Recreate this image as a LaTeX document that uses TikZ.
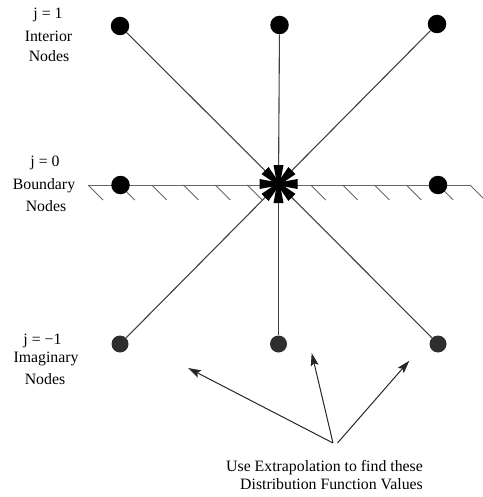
\documentclass[tikz,border=0pt]{standalone}
\usepackage{fontspec}
\setmainfont{Liberation Serif}
\usetikzlibrary{arrows.meta,calc}
\tikzset{
  dot/.style={circle,fill=black,inner sep=0pt,minimum size=18.5pt},
  imgdot/.style={circle,fill=black!82,inner sep=0pt,minimum size=17pt},
  spoke/.style={draw=black!75,line width=1.1pt},
  bound/.style={draw=black!60,line width=1pt},
  hatch/.style={draw=black!60,line width=0.9pt},
  lbl/.style={anchor=base,inner sep=0pt,text=black,font=\fontsize{15.8}{20}\selectfont},
  arr/.style={draw=black!85,line width=1pt,-{Stealth[length=13pt,width=8pt,inset=2.5pt]}},
  starfill/.style={fill=black}
}
\begin{document}
\begin{tikzpicture}[x=1pt,y=-1pt]
\useasboundingbox (0,0) rectangle (482,497);
% boundary line and hatching
\coordinate (bl) at (88,185);
\coordinate (br) at (470,185);
\draw[bound] (bl) -- (br);
\foreach \i in {0,...,12}{
  \draw[hatch] ($(bl)+(31.83*\i,0)$) -- ++(15,15);
}
% nodes
\coordinate (c) at (278.5,184);
\node[dot] (t1) at (120,26) {};
\node[dot] (t2) at (279.5,25) {};
\node[dot] (t3) at (437,24) {};
\node[dot] (m1) at (120.5,185) {};
\node[dot] (m3) at (438,185) {};
\node[imgdot] (b1) at (120,344) {};
\node[imgdot] (b2) at (278.5,344) {};
\node[imgdot] (b3) at (438,344) {};
% spokes
\foreach \n in {t1,t2,t3,b1,b2,b3}{
  \draw[spoke] (c) -- (\n);
}
% star
\fill[white] (c) circle (12);
\fill[starfill] (c) circle (6);
\foreach \a in {0,45,...,315}{
  \fill[starfill,shift={(c)},rotate=\a] (3,-2) -- (19,-5) -- (19,5) -- (3,2) -- cycle;
}
% labels
\node[lbl] (l1a) at (48,19) {j = 1};
\node[lbl] (l1b) at (48.5,41.5) {Interior};
\node[lbl] (l1c) at (49,61.5) {Nodes};
\node[lbl] (l2a) at (45,167) {j = 0};
\node[lbl] (l2b) at (44,189.5) {Boundary};
\node[lbl] (l2c) at (46,211.5) {Nodes};
\node[lbl] (l3a) at (42.5,344) {j = −1};
\node[lbl] (l3b) at (46,362.5) {Imaginary};
\node[lbl] (l3c) at (45,384) {Nodes};
% bottom text
\node[lbl,anchor=base east] (x1) at (423,471) {Use Extrapolation to find these};
\node[lbl,anchor=base east] (x2) at (423,489) {Distribution Function Values};
% arrows
\coordinate (s1) at (333,443);
\coordinate (s2) at (337.5,443);
\coordinate (e1) at (188,368);
\coordinate (e2) at (311.7,353);
\coordinate (e3) at (409.3,360.7);
\draw[arr] (s1) -- (e1);
\draw[arr] (s1) -- (e2);
\draw[arr] (s2) -- (e3);
\end{tikzpicture}
\end{document}
